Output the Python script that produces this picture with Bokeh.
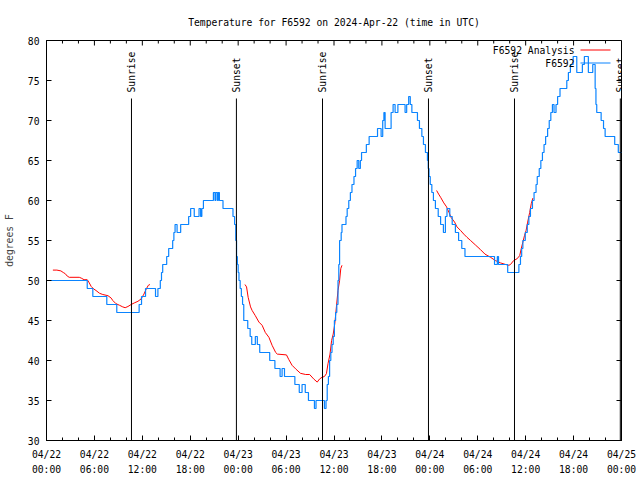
import math
from bokeh.plotting import figure
from bokeh.models import Range1d, FixedTicker, LinearAxis, Label
from bokeh.embed import file_html
from bokeh.resources import INLINE

# ---------------- data (hours since 2024-04-22 00:00 UTC) ----------------
title_text = "Temperature for F6592 on 2024-Apr-22 (time in UTC)"
y_label = "degrees F"

obs_hours = [0.0, 5.1, 5.8, 7.55, 8.8, 11.6, 11.9, 12.4, 13.65, 13.95, 14.25, 14.4, 14.55,
             15.05, 15.3, 15.8, 15.95, 16.1, 16.35, 16.8, 17.8, 18.05, 18.5, 19.1, 19.3,
             19.45, 19.65, 20.9, 21.1, 21.2, 21.4, 21.5, 21.65, 22.1, 23.35, 23.55, 23.7,
             23.8, 23.9, 24.0, 24.1, 24.25, 24.4, 24.55, 24.7, 25.2, 25.5, 25.7, 26.15,
             26.4, 26.7, 27.95, 28.6, 29.25, 29.5, 29.8, 31.1, 31.65, 32.0, 32.4, 32.8,
             33.55, 33.75, 34.8, 35.0, 35.15, 35.3, 35.45, 35.6, 35.75, 35.9, 36.05, 36.2,
             36.35, 36.5, 36.6, 36.7, 36.9, 37.0, 37.5, 37.65, 37.85, 38.05, 38.25, 38.5,
             38.7, 38.9, 39.1, 39.3, 39.45, 40.05, 40.4, 41.45, 41.9, 42.1, 42.25, 42.4,
             43.15, 43.4, 43.65, 44.0, 44.9, 45.1, 45.35, 45.55, 45.75, 46.45, 46.7, 47.0,
             47.2, 47.45, 47.7, 47.8, 47.9, 48.05, 48.25, 48.45, 48.7, 49.05, 49.35, 49.7,
             49.95, 50.15, 50.5, 50.8, 51.2, 51.6, 52.0, 52.4, 56.1, 56.45, 56.6, 57.75,
             59.15, 59.35, 59.5, 59.65, 59.95, 60.2, 60.4, 60.6, 60.85, 61.05, 61.3, 61.45,
             61.7, 61.9, 62.1, 62.3, 62.5, 62.75, 62.95, 63.15, 63.35, 63.55, 63.8, 64.0,
             64.3, 65.15, 65.35, 65.6, 65.95, 66.4, 67.1, 67.35, 67.85, 68.4, 68.7, 68.8,
             68.9, 69.45, 69.75, 69.95, 71.15, 71.6, 72.0]
obs_temps = [50, 49, 48, 47, 46, 47, 48, 49, 48, 49, 50, 51, 52,
             53, 54, 55, 56, 57, 56, 57, 58, 59, 58, 59, 58,
             59, 60, 61, 60, 61, 60, 61, 60, 59, 58, 57, 55,
             53, 52, 51, 50, 49, 48, 47, 45, 44, 43, 42, 43,
             42, 41, 40, 39, 38, 39, 38, 37, 36, 37, 36, 35,
             34, 35, 34, 35, 37, 38, 40, 41, 42, 43, 45, 46,
             47, 50, 52, 55, 56, 57, 58, 59, 60, 61, 62, 63,
             64, 65, 64, 65, 66, 67, 68, 69, 68, 70, 71, 69,
             71, 72, 71, 72, 71, 72, 73, 72, 71, 70, 69, 68,
             67, 66, 65, 64, 63, 62, 61, 60, 59, 58, 57, 56,
             58, 59, 58, 57, 56, 55, 54, 53, 52, 53, 52, 51,
             52, 53, 54, 55, 56, 57, 58, 59, 60, 61, 62, 63,
             64, 65, 66, 67, 68, 69, 70, 71, 72, 71, 72, 73,
             74, 75, 76, 77, 78, 76, 77, 78, 76, 77, 74, 72,
             71, 70, 69, 68, 67, 66, 66]

ana1_hours = [0.8, 1.3, 1.8, 2.1, 2.35, 2.6, 2.85, 4.1, 4.35, 4.7, 5.1, 5.3, 5.6, 5.9, 6.2,
              6.65, 7.05, 7.7, 8.1, 8.3, 8.7, 9.15, 9.55, 9.85, 10.2, 10.6, 11.0, 11.45,
              11.85, 12.2, 12.5, 12.75, 12.95]
ana1_temps = [51.3, 51.3, 51.2, 51.0, 50.85, 50.55, 50.4, 50.4, 50.3, 50.1, 50.1, 49.8, 49.25,
              48.95, 48.75, 48.4, 48.25, 48.1, 47.8, 47.5, 47.1, 46.9, 46.7, 46.6, 46.75,
              47.0, 47.2, 47.4, 47.7, 48.3, 48.95, 49.4, 49.5]
ana2_hours = [24.85, 25.05, 25.25, 25.55, 25.75, 26.15, 26.6, 27.0, 27.4, 27.85, 28.25, 28.7,
              28.9, 30.05, 30.35, 30.75, 31.2, 31.8, 32.45, 32.95, 33.45, 33.9, 34.2, 34.5,
              34.8, 35.05, 35.25, 35.5, 35.7, 35.9, 36.1, 36.3, 36.5, 36.7, 36.85, 37.0]
ana2_temps = [49.5, 49.2, 47.9, 46.7, 46.25, 45.6, 44.8, 44.4, 43.5, 42.9, 41.9, 41.0,
              40.8, 40.7, 40.1, 39.4, 38.95, 38.4, 38.25, 38.25, 37.7, 37.3, 37.7, 37.9,
              38.0, 38.35, 39.6, 40.8, 42.5, 43.3, 44.6, 46.7, 48.75, 50.0, 51.5, 51.9]
ana3_hours = [48.85, 49.1, 49.35, 49.75, 50.1, 50.4, 50.65, 51.1, 51.4, 51.85, 52.25, 52.65,
              53.1, 53.7, 54.3, 54.9, 55.6, 56.2, 56.85, 57.5, 57.9, 58.1, 58.5, 58.9,
              59.25, 59.45, 59.65, 59.85, 60.05, 60.25, 60.5, 60.7, 60.9]
ana3_temps = [61.25, 60.8, 60.4, 59.7, 59.2, 58.5, 57.9, 57.3, 56.7, 56.25, 55.8, 55.4,
              55.0, 54.45, 53.9, 53.3, 52.9, 52.5, 52.2, 52.0, 51.9, 52.0, 52.5, 52.7,
              53.1, 54.0, 54.8, 55.6, 56.25, 57.3, 58.5, 59.6, 60.3]

event_hours = [10.64, 23.78, 34.56, 47.83, 58.6, 71.85]
event_names = ["Sunrise", "Sunset", "Sunrise", "Sunset", "Sunrise", "Sunset"]

x_tick_hours = [0, 6, 12, 18, 24, 30, 36, 42, 48, 54, 60, 66, 72]
x_tick_labels = ["04/22\n00:00", "04/22\n06:00", "04/22\n12:00", "04/22\n18:00",
                 "04/23\n00:00", "04/23\n06:00", "04/23\n12:00", "04/23\n18:00",
                 "04/24\n00:00", "04/24\n06:00", "04/24\n12:00", "04/24\n18:00",
                 "04/25\n00:00"]
x_minor_hours = list(range(0, 73, 2))
y_ticks = [30, 35, 40, 45, 50, 55, 60, 65, 70, 75, 80]

series_names = ["F6592 Analysis", "F6592"]
series_colors = ["#FF0000", "#0A84FF"]

# ---------------- styling ----------------
FONT = "DejaVu Sans Mono"
FS = "9.7px"
W, H = 640, 480
L, R, T, B = 46, 19, 40, 40
X0, X1, Y0, Y1 = 0, 72, 30, 80
MAJ, MIN = 5, 3  # inward tick lengths, px


def px_x(px):
    return X0 + (px - L) * (X1 - X0) / (W - L - R)


def px_y(py):
    return Y1 - (py - T) * (Y1 - Y0) / (H - T - B)


dx_per_px = (X1 - X0) / (W - L - R)
dy_per_px = (Y1 - Y0) / (H - T - B)

p = figure(width=W, height=H, output_backend="svg", toolbar_location=None,
           x_range=Range1d(X0, X1), y_range=Range1d(Y0, Y1),
           min_border_left=L, min_border_right=R, min_border_top=T, min_border_bottom=B,
           x_axis_location=None, y_axis_location=None)
p.grid.visible = False
p.outline_line_color = "black"
p.outline_line_width = 1
p.background_fill_color = "white"
p.border_fill_color = "white"

p.title.text = title_text
p.title.align = "center"
p.title.text_font = FONT
p.title.text_font_size = FS
p.title.text_font_style = "normal"
p.title.text_color = "black"
p.title.standoff = 25


def style_axis(ax):
    ax.axis_line_color = "black"
    ax.major_tick_line_color = "black"
    ax.minor_tick_line_color = "black"
    ax.major_tick_out = 0
    ax.minor_tick_out = 0
    ax.major_tick_in = MAJ
    ax.minor_tick_in = MIN
    ax.major_label_text_font = FONT
    ax.major_label_text_font_size = FS
    ax.major_label_text_color = "black"


xb = LinearAxis(ticker=FixedTicker(ticks=x_tick_hours, minor_ticks=x_minor_hours))
style_axis(xb)
xb.major_label_overrides = {h: lab for h, lab in zip(x_tick_hours, x_tick_labels)}
xb.major_label_standoff = 8
xb.major_label_text_line_height = 1.4
p.add_layout(xb, "below")

yl = LinearAxis(ticker=FixedTicker(ticks=y_ticks, minor_ticks=[]))
style_axis(yl)
yl.major_label_standoff = 7
yl.axis_label = y_label
yl.axis_label_text_font = FONT
yl.axis_label_text_font_size = FS
yl.axis_label_text_font_style = "normal"
yl.axis_label_standoff = 10
p.add_layout(yl, "left")

# mirrored inward ticks on the top and right borders
minor_only = [h for h in x_minor_hours if h not in x_tick_hours]
p.segment(x0=x_tick_hours, y0=[Y1] * len(x_tick_hours), x1=x_tick_hours,
          y1=[Y1 - MAJ * dy_per_px] * len(x_tick_hours), line_color="black", line_width=1)
p.segment(x0=minor_only, y0=[Y1] * len(minor_only), x1=minor_only,
          y1=[Y1 - MIN * dy_per_px] * len(minor_only), line_color="black", line_width=1)
p.segment(x0=[X1] * len(y_ticks), y0=y_ticks, x1=[X1 - MAJ * dx_per_px] * len(y_ticks),
          y1=y_ticks, line_color="black", line_width=1)

# analysis (red), broken into segments
nan = float("nan")
ana_x = ana1_hours + [nan] + ana2_hours + [nan] + ana3_hours
ana_y = ana1_temps + [nan] + ana2_temps + [nan] + ana3_temps
p.line(ana_x, ana_y, line_color=series_colors[0], line_width=1)

# observations (blue), stepped
p.step(obs_hours, obs_temps, mode="after", line_color=series_colors[1], line_width=1.2)

# sunrise / sunset markers
line_top = px_y(98)
p.segment(x0=event_hours, y0=[Y0] * len(event_hours), x1=event_hours,
          y1=[line_top] * len(event_hours), line_color="black", line_width=1)
for h, name in zip(event_hours, event_names):
    p.add_layout(Label(x=h, y=px_y(92), text=name, angle=math.pi / 2,
                       text_align="left", text_baseline="middle", text_font=FONT,
                       text_font_size=FS, text_color="black"))

# legend (gnuplot style: text right-aligned, sample line to the right)
for i, (name, col) in enumerate(zip(series_names, series_colors)):
    ypix = 49.5 + i * 13
    p.add_layout(Label(x=px_x(574), y=px_y(ypix), text=name, text_align="right",
                       text_baseline="middle", text_font=FONT, text_font_size=FS,
                       text_color="black"))
    p.line([px_x(580), px_x(610)], [px_y(ypix), px_y(ypix)], line_color=col,
           line_width=1.2 if i else 1)

open("out.html", "w").write(file_html(p, INLINE))
